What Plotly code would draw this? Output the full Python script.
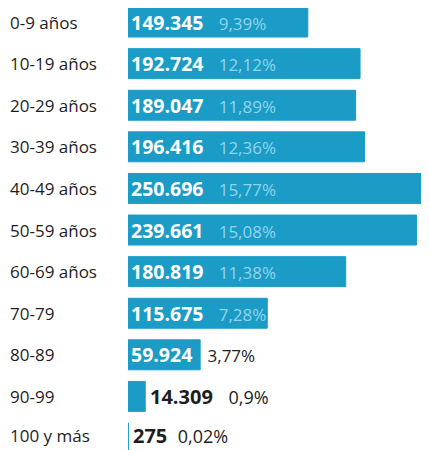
import plotly.graph_objects as go

categories = ["0-9 años", "10-19 años", "20-29 años", "30-39 años", "40-49 años",
              "50-59 años", "60-69 años", "70-79", "80-89", "90-99", "100 y más"]
values = [149345, 192724, 189047, 196416, 250696, 239661, 180819, 115675, 59924, 14309, 275]
value_labels = ["149.345", "192.724", "189.047", "196.416", "250.696", "239.661",
                "180.819", "115.675", "59.924", "14.309", "275"]
pct_labels = ["9,39%", "12,12%", "11,89%", "12,36%", "15,77%", "15,08%",
              "11,38%", "7,28%", "3,77%", "0,9%", "0,02%"]

BAR = "#1a9cc6"
DARK = "#1e1e1e"
FONT = "Open Sans"
NB = "&nbsp;"

fig = go.Figure(go.Bar(
    y=list(range(len(categories))), x=values, orientation="h",
    marker=dict(color=BAR, line=dict(color=BAR, width=1)),
    width=0.72, hoverinfo="skip",
))

annotations = []
last = len(categories) - 1
for i, (cat, v, vl, pl) in enumerate(zip(categories, values, value_labels, pct_labels)):
    ys = 3 if i == last else 0
    annotations.append(dict(
        xref="paper", yref="y", x=-0.3987, y=i, xanchor="left", yanchor="middle",
        yshift=ys, text=cat, showarrow=False,
        font=dict(family=FONT, size=17, color=DARK),
    ))
    if v > 100000:
        txt = (f"<b>{vl}</b>{NB*3}"
               f"<span style='font-size:17px;color:#93d4ea'>{pl}</span>")
        annotations.append(dict(x=0, y=i, xref="x", yref="y", xanchor="left",
                                yanchor="middle", xshift=1, text=txt, showarrow=False,
                                font=dict(family=FONT, size=19.5, color="white")))
    elif v > 40000:
        txt = (f"<b>{vl}</b>{NB*3}"
               f"<span style='font-size:17px;color:{DARK}'>{pl}</span>")
        annotations.append(dict(x=0, y=i, xref="x", yref="y", xanchor="left",
                                yanchor="middle", xshift=1, text=txt, showarrow=False,
                                font=dict(family=FONT, size=19.5, color="white")))
    else:
        gap = NB * 3 if v > 1000 else NB * 2
        txt = (f"<b>{vl}</b>{gap}"
               f"<span style='font-size:18px'>{pl}</span>")
        annotations.append(dict(x=v, y=i, xref="x", yref="y", xanchor="left",
                                yanchor="middle", xshift=3, yshift=ys, text=txt,
                                showarrow=False,
                                font=dict(family=FONT, size=20, color=DARK)))

fig.update_layout(
    width=421, height=442,
    margin=dict(l=120, r=0, t=0, b=0),
    plot_bgcolor="white", paper_bgcolor="white",
    showlegend=False,
    xaxis=dict(range=[0, 250000], visible=False, fixedrange=True),
    yaxis=dict(range=[10.288, -0.337], visible=False, fixedrange=True),
    annotations=annotations,
)

fig.write_html("out.html")
